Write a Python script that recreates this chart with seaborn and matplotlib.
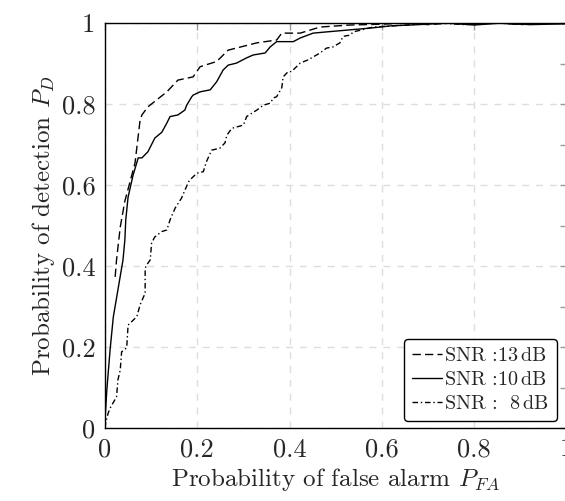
import matplotlib
matplotlib.use('Agg')
import matplotlib.pyplot as plt
import seaborn as sns
import pandas as pd

# ROC curves (false alarm prob, detection prob)
pfa_13 = [0.022, 0.025, 0.033, 0.043, 0.065, 0.076, 0.080, 0.093, 0.134, 0.158, 0.191,
          0.206, 0.242, 0.267, 0.329, 0.372, 0.383, 0.423, 0.466, 0.530, 0.600, 0.650,
          0.700, 0.750, 0.800, 0.850, 0.900, 0.950, 1.000]
pd_13 = [0.373, 0.415, 0.496, 0.560, 0.654, 0.760, 0.773, 0.793, 0.830, 0.859, 0.867,
         0.892, 0.905, 0.933, 0.951, 0.958, 0.975, 0.975, 0.990, 0.995, 0.997, 1.000,
         0.996, 1.000, 0.997, 1.000, 0.996, 1.000, 1.000]

pfa_10 = [0.000, 0.004, 0.011, 0.018, 0.039, 0.043, 0.045, 0.050, 0.061, 0.072, 0.080,
          0.093, 0.108, 0.123, 0.134, 0.141, 0.158, 0.173, 0.177, 0.188, 0.191, 0.206,
          0.228, 0.242, 0.256, 0.267, 0.285, 0.307, 0.321, 0.347, 0.358, 0.372, 0.408,
          0.423, 0.451, 0.480, 0.530, 0.580, 0.620, 0.680, 0.740, 0.800, 0.860, 0.920,
          1.000]
pd_10 = [0.020, 0.094, 0.193, 0.274, 0.415, 0.464, 0.514, 0.570, 0.625, 0.667, 0.667,
         0.682, 0.716, 0.730, 0.753, 0.769, 0.773, 0.785, 0.797, 0.818, 0.822, 0.830,
         0.835, 0.855, 0.884, 0.896, 0.901, 0.914, 0.921, 0.926, 0.941, 0.954, 0.954,
         0.963, 0.975, 0.978, 0.983, 0.988, 0.993, 0.996, 1.000, 0.995, 1.000, 0.996,
         0.998]

pfa_8 = [0.000, 0.002, 0.007, 0.011, 0.025, 0.028, 0.033, 0.036, 0.047, 0.050, 0.069,
         0.076, 0.087, 0.087, 0.093, 0.098, 0.101, 0.108, 0.123, 0.134, 0.141, 0.152,
         0.166, 0.181, 0.188, 0.199, 0.213, 0.220, 0.231, 0.249, 0.260, 0.264, 0.275,
         0.300, 0.307, 0.329, 0.343, 0.358, 0.365, 0.372, 0.383, 0.386, 0.397, 0.404,
         0.423, 0.440, 0.466, 0.480, 0.494, 0.509, 0.516, 0.531, 0.538, 0.581, 0.654,
         0.720, 0.780, 0.840, 0.900, 0.960, 1.000]
pd_8 = [0.000, 0.016, 0.037, 0.049, 0.077, 0.119, 0.143, 0.188, 0.198, 0.254, 0.275,
        0.304, 0.333, 0.395, 0.407, 0.415, 0.457, 0.472, 0.485, 0.489, 0.514, 0.543,
        0.568, 0.608, 0.617, 0.629, 0.633, 0.658, 0.686, 0.691, 0.704, 0.723, 0.740,
        0.748, 0.769, 0.785, 0.797, 0.802, 0.815, 0.818, 0.840, 0.867, 0.880, 0.880,
        0.901, 0.909, 0.926, 0.938, 0.941, 0.951, 0.967, 0.970, 0.978, 0.990, 0.995,
        1.000, 0.996, 1.000, 0.997, 1.000, 0.998]

labels = [r'SNR :13$\,$dB', r'SNR :10$\,$dB', r'SNR :$\ \ $8$\,$dB']
ticks = [0, 0.2, 0.4, 0.6, 0.8, 1]
tick_labels = ['0', '0.2', '0.4', '0.6', '0.8', '1']

sns.set_style('white')
plt.rcParams['font.family'] = 'serif'
plt.rcParams['font.serif'] = ['cmr10']
plt.rcParams['mathtext.fontset'] = 'cm'
plt.rcParams['axes.unicode_minus'] = False

fig = plt.figure(figsize=(5.65, 5.01), dpi=100)
ax = fig.add_axes([105 / 565, 73 / 501, 461.5 / 565, 405 / 501])

curves = [(pfa_13, pd_13, (0, (6, 3))),
          (pfa_10, pd_10, '-'),
          (pfa_8, pd_8, (0, (4, 2, 1, 2)))]
for (x, y, ls), lab in zip(curves, labels):
    df = pd.DataFrame({'pfa': x, 'pd': y})
    sns.lineplot(data=df, x='pfa', y='pd', sort=False, estimator=None,
                 color='black', linewidth=1, linestyle=ls, label=lab, ax=ax)

ax.set_xlim(0, 1)
ax.set_ylim(0, 1)
ax.set_xticks(ticks)
ax.set_xticklabels(tick_labels)
ax.set_yticks(ticks)
ax.set_yticklabels(tick_labels)
ax.set_yticks([0.1, 0.3, 0.5, 0.7, 0.9], minor=True)
ax.grid(True, which='major', color='#dddddd', linestyle=(0, (5, 5)), linewidth=1)
ax.tick_params(which='both', direction='in', length=5, width=1, color='#999999',
               top=True, right=True, labelsize=19, pad=7)
for s in ax.spines.values():
    s.set_color('black')
    s.set_linewidth(1)

ax.set_xlabel(r'Probability of false alarm $P_{FA}$', fontsize=18, labelpad=3)
ax.set_ylabel(r'Probability of detection $P_D$', fontsize=18, labelpad=3)

leg = ax.legend(loc='lower right', fontsize=14.5, frameon=True, fancybox=True,
                edgecolor='black', framealpha=1, handlelength=1.5, handletextpad=0.1,
                labelspacing=0.3, borderpad=0.4, borderaxespad=0,
                bbox_to_anchor=(0.979, 0.017))
leg.get_frame().set_linewidth(1)

fig.savefig('out.png', dpi=100)
